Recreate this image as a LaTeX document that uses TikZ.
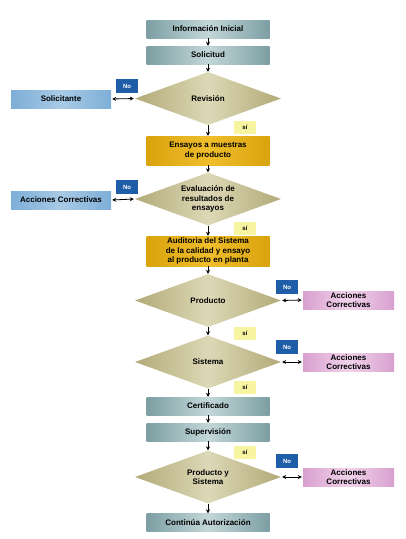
\documentclass[tikz,border=0pt]{standalone}
\usepackage{fontspec}
\setmainfont{Liberation Sans}
\usetikzlibrary{shapes.geometric, arrows.meta}

\definecolor{cGrisO}{HTML}{7C9FA3}
\definecolor{cGrisC}{HTML}{C3D7D9}
\definecolor{cOlivO}{HTML}{B2AA78}
\definecolor{cOlivC}{HTML}{DDD8B6}
\definecolor{cOroO}{HTML}{D9A30C}
\definecolor{cOroC}{HTML}{F0BE2C}
\definecolor{cCeleO}{HTML}{7DAED6}
\definecolor{cCeleC}{HTML}{A8CAE6}
\definecolor{cRosaO}{HTML}{D8A0CF}
\definecolor{cRosaC}{HTML}{F1D3EB}
\definecolor{cAzul}{HTML}{1F5DA8}
\definecolor{cAmar}{HTML}{F7F4A2}

\begin{document}
\begin{tikzpicture}[x=1pt,y=-1pt,
  txt/.style={font=\bfseries\fontsize{8}{9.5}\selectfont, align=center, inner sep=0pt},
  gris/.style={txt, minimum width=123pt, minimum height=18pt,
    left color=cGrisO, right color=cGrisO, middle color=cGrisC},
  oro/.style={txt, minimum width=123pt, minimum height=29pt,
    left color=cOroO, right color=cOroO, middle color=cOroC},
  rombo/.style={txt, diamond, aspect=2.75, minimum width=146pt, minimum height=53pt,
    left color=cOlivO, right color=cOlivO, middle color=cOlivC},
  celeste/.style={txt, minimum width=100pt, minimum height=18pt,
    left color=cCeleO, right color=cCeleO, middle color=cCeleC},
  rosa/.style={txt, minimum width=91pt, minimum height=18pt,
    left color=cRosaO, right color=cRosaO, middle color=cRosaC},
  etiqNo/.style={txt, font=\bfseries\fontsize{6}{7}\selectfont, text=white,
    fill=cAzul, minimum width=22pt, minimum height=14pt},
  etiqSi/.style={txt, font=\bfseries\fontsize{6}{7}\selectfont,
    fill=cAmar, minimum width=22pt, minimum height=13pt},
  flecha/.style={-{Stealth[length=4pt,width=4pt]}, line width=0.8pt},
  doble/.style={{Stealth[length=4pt,width=4pt]}-{Stealth[length=4pt,width=4pt]},
    line width=0.8pt, shorten <=1pt, shorten >=1pt}]
\useasboundingbox (0,0) rectangle (405,539);
%diagrama de certificacion
\node[gris] (nInfo) at (208,29) {Información Inicial};
\node[gris] (nSol) at (208,55) {Solicitud};
\node[rombo] (nRev) at (208,98.5) {Revisión};
\node[celeste] (nSolic) at (61,99) {Solicitante};
\node[etiqNo] (nNo1) at (127,86) {No};
\node[etiqSi] (nSi1) at (245,127) {sí};

\node[oro] (nEns) at (208,150.5) {Ensayos a muestras\\de producto};
\node[rombo] (nEval) at (208,199) {Evaluación de\\resultados de\\ensayos};
\node[celeste] (nAcc1) at (61,200) {Acciones Correctivas};
\node[etiqNo] (nNo2) at (127,187) {No};
\node[etiqSi] (nSi2) at (245,228.5) {sí};

\node[oro, minimum height=30pt] (nAud) at (208,251) {Auditoria del Sistema\\de la calidad y ensayo\\al producto en planta};
\node[rombo] (nProd) at (208,300.5) {Producto};
\node[rosa] (nAcc2) at (348.5,300) {Acciones\\Correctivas};
\node[etiqNo] (nNo3) at (287,287) {No};
\node[etiqSi] (nSi3) at (245,333.5) {sí};

\node[rombo] (nSis) at (208,362) {Sistema};
\node[rosa] (nAcc3) at (348.5,362) {Acciones\\Correctivas};
\node[etiqNo] (nNo4) at (287,347) {No};
\node[etiqSi] (nSi4) at (245,387) {sí};

\node[gris] (nCert) at (208,406) {Certificado};
\node[gris] (nSup) at (208,432) {Supervisión};
\node[etiqSi] (nSi5) at (245,452) {sí};
\node[rombo] (nPyS) at (208,477) {Producto y\\Sistema};
\node[rosa] (nAcc4) at (348.5,477) {Acciones\\Correctivas};
\node[etiqNo] (nNo5) at (287,461) {No};
\node[gris] (nCont) at (208,522.5) {Continúa Autorización};

\foreach \a/\b in {nInfo/nSol,nSol/nRev,nRev/nEns,nEns/nEval,nEval/nAud,nAud/nProd,
  nProd/nSis,nSis/nCert,nCert/nSup,nSup/nPyS,nPyS/nCont}
{
    \draw[flecha] (\a) -- (\b);
};

\draw[doble] (nSolic.east) -- (nRev.west);
\draw[doble] (nAcc1.east) -- (nEval.west);
\foreach \a/\b in {nProd/nAcc2,nSis/nAcc3,nPyS/nAcc4}
{
    \draw[doble] (\a.east) -- (\b.west);
};
\end{tikzpicture}
\end{document}
